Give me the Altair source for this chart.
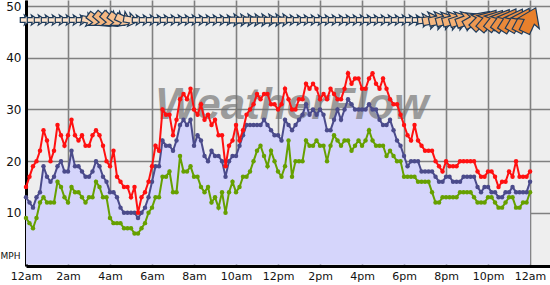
import altair as alt
import pandas as pd

# 10-minute samples, 12am -> 12am (145 samples)
gust = [15,17,19,20,22,26, 24,20,22,27,25,23, 25,28,25,24,25,23, 23,25,26,25,23,20,
        19,22,17,16,15,15, 13,15,10,13,14,16, 19,23,22,30,29,29, 25,28,32,33,32,34,
        30,29,31,28,29,27, 28,25,25,19,23,24, 27,24,26,29,30,31, 33,32,33,33,31,31,
        30,31,34,32,30,30, 32,32,35,34,35,34, 32,33,32,34,33,32, 32,34,37,35,36,36,
        34,34,36,37,35,34, 36,34,32,31,31,29, 27,25,24,27,24,23, 22,22,22,20,19,18,
        20,19,19,19,20,20, 20,20,20,18,17,17, 18,18,17,15,16,16, 18,17,20,17,17,17, 18]
avg = [13,12,11,13,14,19, 17,16,17,19,20,18, 18,22,19,19,18,17, 17,18,20,19,17,16,
       14,14,13,11,10,10, 10,10,9,10,11,13, 16,19,19,24,23,23, 22,24,27,28,27,28,
       23,25,24,21,20,22, 21,21,20,17,20,21, 21,23,25,27,27,27, 27,27,28,27,26,25,
       25,24,28,27,26,27, 28,29,31,29,30,29, 30,29,26,26,28,30, 28,30,32,31,30,30,
       30,30,31,30,30,28, 27,27,28,26,24,23, 21,19,20,20,20,18, 18,18,18,17,16,16,
       17,17,16,16,16,17, 17,17,17,15,14,15, 15,14,14,13,13,14, 14,15,14,14,14,14, 16]
lull = [9,8,7,9,12,13, 12,12,12,16,15,13, 12,15,14,14,13,12, 13,13,16,15,13,13,
        9,8,8,8,7,7, 7,6,6,7,8,10, 11,13,13,17,17,18, 14,14,21,18,18,19,
        17,17,15,14,15,12, 13,11,14,10,14,16, 14,15,17,17,18,20, 22,23,21,19,22,20,
        18,17,19,24,17,20, 20,20,24,23,23,24, 23,23,20,23,25,24, 23,24,24,22,23,24,
        23,24,26,24,23,23, 23,21,22,21,20,20, 17,17,17,17,16,16, 16,16,14,12,12,13,
        13,13,13,13,14,14, 14,14,13,12,12,12, 13,13,12,11,11,12, 13,13,11,11,12,12, 14]

# wind arrows, 20-minute samples (73)
wind_speed = [6,6,6,6,6,6,6,6,6, 8,11,12,12,11,10,8,
              6,6,6,6,6,6,6,6,6,6,6,6,6,6, 7,7,7,7,7,7,7,7,
              6,6,6,6,6,6,6,6,6,6,6,6,6,6,6,6,6,6,6,
              8,11,12,12,13,13,14,14,16,17,16,17,18,17,18,19]
wind_dir = [90,90,90,90,90,90,90,90,90, 100,125,130,130,125,115,100,
            90,90,90,90,90,90,90,90,90,90,90,90,90,90, 90,88,90,92,90,88,90,90,
            90,90,90,90,90,90,90,90,90,90,90,90,90,90,90,90,90,90,90,
            85,80,78,75,75,72,70,60,45,40,38,35,32,30,28,25]

x_ticks = [0,2,4,6,8,10,12,14,16,18,20,22,24]
y_ticks = [10,20,30,40,50]

rows = []
for i in range(len(gust)):
    h = i * 10 / 60
    rows.append({"hour": h, "series": "gust", "mph": gust[i]})
    rows.append({"hour": h, "series": "avg", "mph": avg[i]})
    rows.append({"hour": h, "series": "lull", "mph": lull[i]})
df = pd.DataFrame(rows)
wind = pd.DataFrame({"hour": [i * 20 / 60 for i in range(len(wind_speed))],
                     "speed": wind_speed, "dir": wind_dir})

FONT = "DejaVu Sans"
label_expr = ("(datum.value % 12 == 0 ? '12' : '' + (datum.value % 12)) + "
              "((datum.value < 12 || datum.value >= 24) ? 'am' : 'pm')")

x_enc = alt.X("hour:Q", scale=alt.Scale(domain=[0, 24.95], nice=False, zero=False),
              axis=alt.Axis(values=x_ticks, labelExpr=label_expr, title=None,
                            domainColor="black", domainWidth=3, ticks=False,
                            grid=True, gridColor="#808080", gridWidth=1.6,
                            labelFont=FONT, labelFontSize=11, labelColor="#111",
                            labelPadding=4, labelFlush=False))
y_enc = alt.Y("mph:Q", scale=alt.Scale(domain=[-0.3, 51.2], nice=False, zero=False),
              axis=alt.Axis(values=y_ticks, title="MPH", titleAngle=0, titleX=-16,
                            titleY=255, titleAlign="center", titleBaseline="middle",
                            titleFont=FONT, titleFontSize=9, titleFontWeight="normal",
                            titleColor="#111",
                            domainColor="black", domainWidth=3, ticks=False,
                            grid=True, gridColor="#808080", gridWidth=1.6,
                            labelFont=FONT, labelFontSize=12, labelColor="#111",
                            labelPadding=5))

base = alt.Chart(df)

area = base.transform_filter("datum.series == 'avg'").mark_area(
    color="#d5d5fb", opacity=1).encode(x=x_enc, y=y_enc, y2=alt.value(266))

watermark = alt.Chart(pd.DataFrame({"t": ["WeatherFlow"]})).mark_text(
    font="Liberation Sans", fontStyle="italic", fontWeight="bold", fontSize=44,
    color="#707070", opacity=0.65, align="center", baseline="middle").encode(
    text="t:N", x=alt.value(266), y=alt.value(106))

def series_line(name, color):
    return base.transform_filter(f"datum.series == '{name}'").mark_line(
        color=color, strokeWidth=2,
        point=alt.OverlayMarkDef(filled=True, size=20, color=color, opacity=1)
    ).encode(x=x_enc, y=y_enc)

green_l = series_line("lull", "#66a000")
blue_l = series_line("avg", "#4b4b8b")
red_l = series_line("gust", "#ff1010")

ARROW = "M0,-1 L0.9,0.3 L0.42,0.15 L0.42,1 L-0.42,1 L-0.42,0.15 L-0.9,0.3 Z"
arrows = alt.Chart(wind).mark_point(
    shape=ARROW, filled=True, stroke="#1d3a5a", strokeWidth=1.2, opacity=1).encode(
    x=alt.X("hour:Q", scale=alt.Scale(domain=[0, 24.95], nice=False, zero=False)),
    y=alt.value(20),
    angle=alt.Angle("dir:Q", scale=None),
    size=alt.Size("speed:Q", scale=alt.Scale(domain=[6, 19], range=[130, 720]), legend=None),
    fill=alt.Fill("speed:Q", scale=alt.Scale(domain=[6, 19], range=["#fde4cc", "#e8802c"]),
                  legend=None),
)

chart = alt.layer(area, watermark, green_l, blue_l, red_l, arrows).properties(
    width=524, height=266,
    padding={"left": 26, "top": 0, "right": 0, "bottom": 19},
    autosize="none", background="white",
).configure_view(fill="#eeeeee", stroke=None)

chart.save("out.html", embed_options={"renderer": "svg", "actions": False})
